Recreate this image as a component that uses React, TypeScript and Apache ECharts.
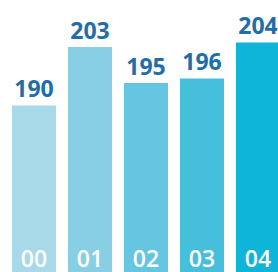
import React, { useEffect, useRef } from "react";
import * as echarts from "echarts";

const categories = ["00", "01", "02", "03", "04"];
const values = [190, 203, 195, 196, 204];
const barColors = ["#a8d9e9", "#88cfe6", "#66c6e1", "#46bfdc", "#0eb5d8"];

export default function App() {
  const ref = useRef<HTMLDivElement>(null);
  useEffect(() => {
    if (!ref.current) return;
    const chart = echarts.init(ref.current, null, { renderer: "svg" });
    chart.setOption({
      animation: false,
      backgroundColor: "#ffffff",
      grid: { left: 6, right: 0, top: 2, bottom: 0 },
      xAxis: {
        type: "category",
        data: categories,
        axisLine: { show: false },
        axisTick: { show: false },
        axisLabel: {
          inside: true,
          margin: 3,
          color: "#ffffff",
          fontSize: 23,
          fontWeight: 600,
          fontFamily: "Open Sans",
        },
        z: 10,
      },
      yAxis: {
        type: "value",
        min: 153,
        max: 213,
        show: false,
        splitLine: { show: false },
      },
      series: [
        {
          type: "bar",
          data: values.map((v, i) => ({ value: v, itemStyle: { color: barColors[i] } })),
          barWidth: 44,
          label: {
            show: true,
            position: "top",
            distance: 6,
            color: "#1e6eaa",
            fontSize: 23,
            fontWeight: "bold",
            fontFamily: "Open Sans",
          },
        },
      ],
    });
    return () => chart.dispose();
  }, []);
  return (
    <div style={{ position: "fixed", left: 0, top: 0, width: 278, height: 272, overflow: "hidden", background: "#fff" }}>
      <div ref={ref} style={{ width: 286, height: 272 }} />
    </div>
  );
}
